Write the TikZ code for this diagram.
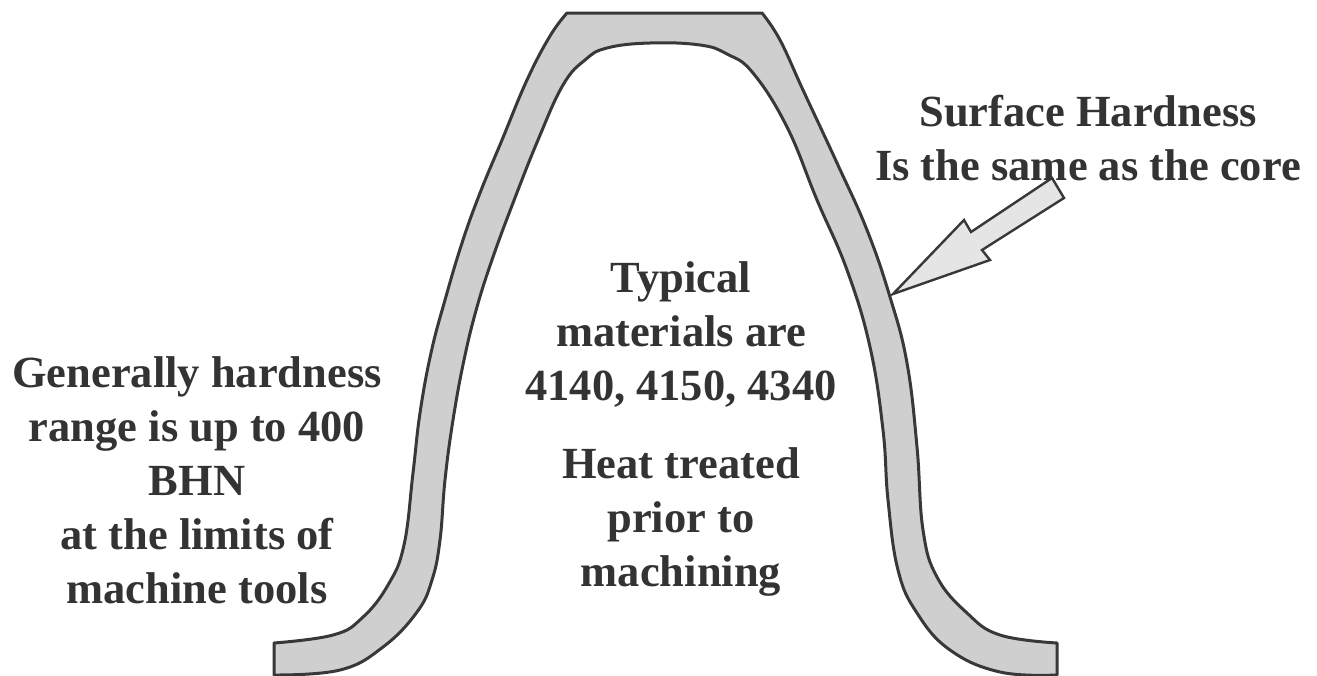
\documentclass[tikz,border=0pt]{standalone}
\usepackage{fontspec}
\setmainfont{Liberation Serif}
\definecolor{ink}{gray}{0.22}
\definecolor{txt}{gray}{0.2}
\definecolor{speck}{gray}{0.81}
\definecolor{pale}{gray}{0.9}
\tikzset{
  label text/.style={font=\fontsize{44.5}{54}\selectfont\bfseries,text=txt,align=center,inner sep=0pt},
  band/.style={draw=ink,line width=3pt,fill=speck,line join=round},
  pointer/.style={draw=ink,line width=2.4pt,fill=pale,line join=miter}
}
\begin{document}
\begin{tikzpicture}[x=1pt,y=-1pt]
\useasboundingbox (0,0) rectangle (1317,675);
\draw[band] (274,675) -- (274,643) -- plot[smooth,tension=0.7] coordinates {(274,643) (333,635) (362,618) (388,585) (404,545) (413,473) (420,413) (431,353) (445,300) (462,243) (480,193) (502,140) (527,80) (550,36) (567,13)}
 -- (762,13) -- plot[smooth,tension=0.7] coordinates {(762,13) (780,40) (803,90) (837,163) (867,230) (890,297) (907,363) (917,447) (923,530) (937,577) (967,613) (1000,635) (1057,643)}
 -- (1057,675) -- plot[smooth,tension=0.7] coordinates {(1057,675) (1000,672) (950,650) (917,613) (898,570) (888,500) (883,430) (870,347) (847,270) (817,200) (787,127) (753,73) (727,54) (700,45) (650,43) (607,48) (585,60) (563,85) (538,140) (513,203) (493,257) (477,307) (464,360) (453,420) (445,480) (440,540) (432,580) (417,612) (383,647) (340,670) (274,675)} -- cycle;
\draw[pointer] (893,294) -- (964,220) -- (971,232) -- (1052,178) -- (1064,198) -- (982,250) -- (990,260) -- cycle;
\node[label text] (surface) at (1088,138) {Surface Hardness\\Is the same as the core};
\node[label text] (typical) at (681,334) {Typical\\materials are\\4140, 4150, 4340};
\node[label text] (heat) at (681,522) {Heat treated\\prior to\\machining};
\node[label text] (general) at (197,480) {Generally hardness\\range is up to 400\\BHN\\at the limits of\\machine tools};
\end{tikzpicture}
\end{document}
